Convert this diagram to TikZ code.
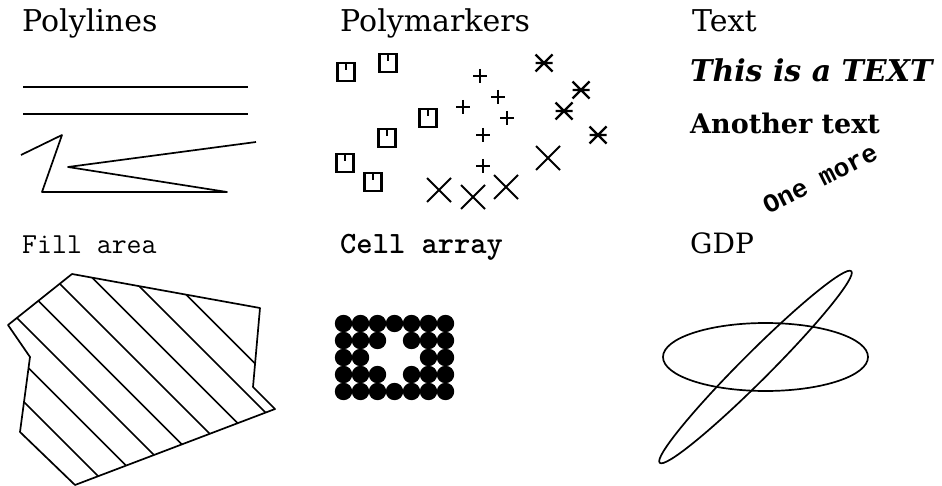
\documentclass[tikz,border=0pt]{standalone}
\usepackage{fontspec}
\usepackage{tikz}
\usetikzlibrary{calc}
\newfontfamily\wideserif{DejaVu Serif}
\newfontfamily\courierbold{Liberation Mono}
\tikzstyle{title}=[anchor=base west, inner sep=0pt,% plain headings
font=\wideserif\fontsize{30}{32}\selectfont]
\tikzstyle{ttitle}=[anchor=base west, inner sep=0pt,% typewriter headings
font=\ttfamily\fontsize{29}{31}\selectfont]
\tikzstyle{pline}=[line width=1.7pt, line join=round]
\tikzstyle{mkline}=[line width=2.2pt]

\begin{document}
\begin{tikzpicture}[x=1pt,y=-1pt]
\useasboundingbox (0,0) rectangle (942,486);
% headings
\node[title] (polylines) at (22,32) {Polylines};
\node[title] (polymarkers) at (340,32) {Polymarkers};
\node[title] (text) at (692,32) {Text};
\node[ttitle] (fillarea) at (22,254) {Fill area};
\node[ttitle, font=\ttfamily\bfseries\fontsize{31}{33}\selectfont] (cellarray) at (340,254) {Cell array};
\node[title, font=\wideserif\fontsize{28}{30}\selectfont] (gdp) at (690,254) {GDP};
% polylines
\draw[pline] (23,87) -- (248,87);
\draw[pline] (23,114) -- (248,114);
\draw[pline] (21,155) -- (62,135) -- (42,192) -- (227,192) -- (68,167) -- (256,142);
% polymarkers
\foreach \x/\y in {346/72,388/63,428/118,387/138,345/163,373/182}{
  \draw[mkline] (\x-8.5,\y-9) rectangle (\x+8.5,\y+9);
  \draw[mkline] (\x,\y-9) -- (\x,\y-2);
}
\foreach \x/\y in {480/76,498/97,463/107,507/118,483/135,483/166}
  \draw[mkline] (\x-7,\y) -- (\x+7,\y) (\x,\y-7) -- (\x,\y+7);
\foreach \x/\y in {544/63,581/90,564/111,598/135}
  \draw[mkline] (\x-8.5,\y-8.5) -- (\x+8.5,\y+8.5) (\x-8.5,\y+8.5) -- (\x+8.5,\y-8.5) (\x-8.5,\y) -- (\x+8.5,\y);
\foreach \x/\y in {439/190,473/197,506/187,548/158}
  \draw[mkline, line width=1.8pt] (\x-12,\y-12) -- (\x+12,\y+12) (\x-12,\y+12) -- (\x+12,\y-12);
% text
\node[anchor=base west, inner sep=0pt, font=\wideserif\bfseries\itshape\fontsize{30}{32}\selectfont] (italic) at (690,82) {This is a TEXT};
\node[anchor=base west, inner sep=0pt, font=\wideserif\bfseries\fontsize{27}{29}\selectfont] (gothic) at (690,134) {Another text};
\node[rotate=27, inner sep=0pt, font=\courierbold\bfseries\fontsize{26}{28}\selectfont] (onemore) at (820,179) {One more};
% fill area
\begin{scope}
\clip (72,274) -- (260,308) -- (253,387) -- (275,409) -- (75,485) -- (20,432) -- (30,357) -- (8,325) -- cycle;
\foreach \c in {378,339.5,301,262.5,224,185.5,147,108.5}
  \draw[pline] (0,\c) -- (300,300+\c);
\end{scope}
\draw[pline] (72,274) -- (260,308) -- (253,387) -- (275,409) -- (75,485) -- (20,432) -- (30,357) -- (8,325) -- cycle;
% cell array
\foreach \j in {0,4}
  \foreach \i in {0,...,6}
    \fill (343.5+17*\i,323.5+17*\j) circle (8.7pt);
\foreach \j in {1,3}
  \foreach \i in {0,1,2,4,5,6}
    \fill (343.5+17*\i,323.5+17*\j) circle (8.7pt);
\foreach \i in {0,1,5,6}
  \fill (343.5+17*\i,357.5) circle (8.7pt);
% gdp
\draw[pline] (765.5,357) ellipse [x radius=102.5pt, y radius=34pt];
\draw[pline, rotate around={45:(755.5,367)}] (755.5,367) ellipse [x radius=135.5pt, y radius=14pt];
\end{tikzpicture}
\end{document}
